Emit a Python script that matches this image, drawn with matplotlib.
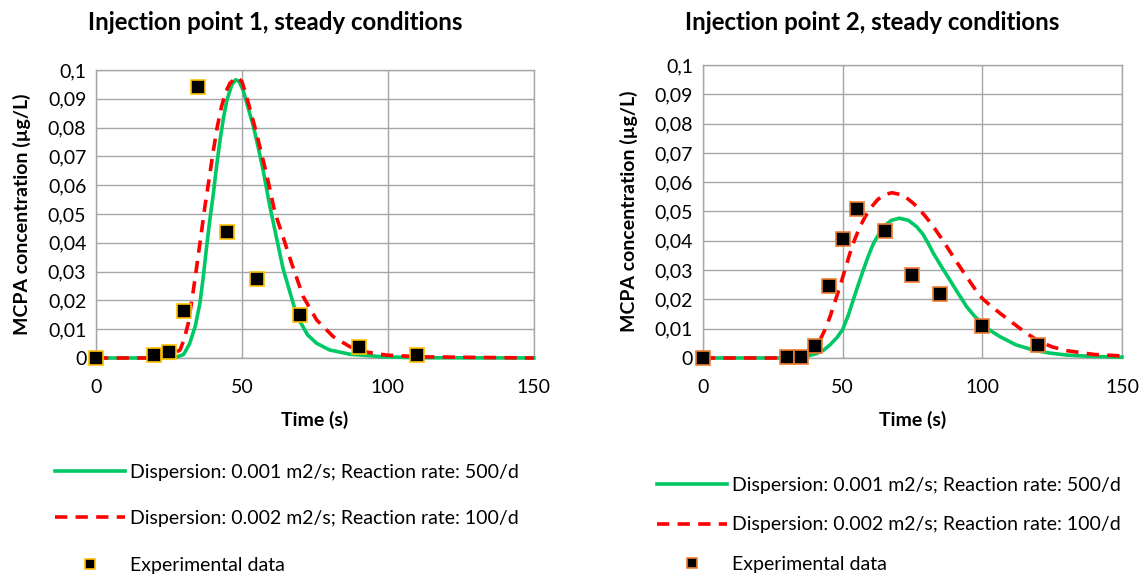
import matplotlib
matplotlib.use("Agg")
import matplotlib.pyplot as plt
from matplotlib.lines import Line2D
from matplotlib.ticker import MultipleLocator, FuncFormatter

plt.rcParams["font.family"] = ["Lato", "DejaVu Sans"]

# Injection point 1
exp1_t = [0, 20, 25, 30, 35, 45, 55, 70, 90, 110]
exp1_c = [0, 0.001, 0.002, 0.0163, 0.094, 0.0437, 0.0274, 0.015, 0.0038, 0.001]

green1_t = [0, 20, 27.5, 30, 32, 34, 35.6, 36.8, 37.9, 39, 40.2, 41.3, 42.5, 43.7, 44.8, 46.5,
            47.8, 49, 50.4, 51.8, 53.9, 55.6, 57.3, 59.5, 61.9, 64.1, 66.4, 68, 70, 72.5,
            75.6, 80, 87, 98.4, 110, 150]
green1_c = [0, 0, 0.0003, 0.0012, 0.0048, 0.011, 0.019, 0.0285, 0.0387, 0.048, 0.057, 0.0665,
            0.0757, 0.0835, 0.0893, 0.0948, 0.0966, 0.096, 0.093, 0.088, 0.0805, 0.073, 0.065,
            0.053, 0.0415, 0.031, 0.023, 0.0175, 0.0125, 0.008, 0.0051, 0.0028, 0.0013,
            0.0004, 0.0001, 0]

red1_t = [0, 20, 25, 28.8, 30.2, 31.6, 33, 34.5, 35.9, 37.3, 38.8, 40.2, 41.6, 43, 44.5, 45.9,
          48.2, 50, 51.6, 53.3, 55, 56.7, 58.4, 61.3, 64.1, 67, 71, 75.6, 81.3, 87, 93, 99.5,
          111, 150]
red1_c = [0, 0, 0.0005, 0.0028, 0.0065, 0.012, 0.021, 0.0317, 0.042, 0.0525, 0.0625, 0.072,
          0.0805, 0.0873, 0.0925, 0.0954, 0.0975, 0.096, 0.0907, 0.0845, 0.078, 0.071, 0.064,
          0.0505, 0.042, 0.0329, 0.0213, 0.0132, 0.0074, 0.0039, 0.002, 0.001, 0.0004, 0]

# Injection point 2
exp2_t = [0, 30, 35, 40, 45, 50, 55, 65, 75, 85, 100, 120]
exp2_c = [0, 0.0003, 0.0005, 0.004, 0.0246, 0.0405, 0.051, 0.0433, 0.0283, 0.0218, 0.0108, 0.0044]

green2_t = [0, 30, 36, 40.7, 43.2, 45.5, 48, 50, 52, 53.8, 55.6, 57.4, 59.2, 61, 62.8, 64.6,
            67.5, 70.3, 73.5, 76.5, 78.7, 80.7, 82.5, 85.5, 88.4, 91.4, 94.4, 97.2, 99.9,
            103, 106.3, 112, 118.3, 124, 130.2, 140, 150]
green2_c = [0, 0, 0.0003, 0.0015, 0.0027, 0.0045, 0.007, 0.0097, 0.0145, 0.0198, 0.025, 0.030,
            0.0348, 0.039, 0.042, 0.0448, 0.047, 0.0477, 0.047, 0.0448, 0.0423, 0.039, 0.0357,
            0.031, 0.0266, 0.022, 0.0175, 0.0143, 0.0118, 0.0093, 0.0073, 0.0045, 0.0027,
            0.0017, 0.001, 0.0005, 0.0003]

red2_t = [0, 30, 36, 39, 41.9, 43.7, 45.5, 47.2, 49, 50.8, 52.6, 54.4, 56.2, 58.3, 60.4, 62.5,
          64.6, 67.6, 71.7, 75.3, 77.7, 80.1, 82.5, 84.9, 87.3, 90.8, 94.4, 97.2, 99.9, 103,
          106.3, 110, 113.5, 117, 120.7, 125, 130.2, 140, 150]
red2_c = [0, 0, 0.0008, 0.0025, 0.0061, 0.0097, 0.0141, 0.019, 0.0243, 0.03, 0.0357, 0.0406,
          0.0448, 0.0486, 0.0516, 0.054, 0.0556, 0.0564, 0.0556, 0.0528, 0.0505, 0.0478,
          0.0448, 0.0415, 0.038, 0.0328, 0.0277, 0.0238, 0.0204, 0.0178, 0.0153, 0.0126,
          0.0101, 0.0077, 0.0055, 0.0038, 0.0025, 0.0012, 0.0007]

titles = ["Injection point 1, steady conditions", "Injection point 2, steady conditions"]
labels = ["Dispersion: 0.001 m2/s; Reaction rate: 500/d",
          "Dispersion: 0.002 m2/s; Reaction rate: 100/d",
          "Experimental data"]

green = "#00C864"
red = "#FF0000"
grid_col = "#A6A6A6"
fs = 14
dash = (3.4, 2.3)

fig = plt.figure(figsize=(11.43, 5.76), dpi=100)
ax1 = fig.add_axes([0.084, 0.3785, 0.383, 0.5])
ax2 = fig.add_axes([0.615, 0.3785, 0.3666, 0.5087])


def comma_fmt(v, pos):
    if abs(v) < 1e-9:
        return "0"
    return ("%.2f" % v).rstrip("0").replace(".", ",")


def draw(ax, gt, gc, rt, rc, et, ec, edge):
    ax.plot(gt, gc, color=green, lw=2.6, clip_on=False, zorder=3)
    ax.plot(rt, rc, color=red, lw=2.6, dashes=dash, clip_on=False, zorder=4)
    ax.plot(et, ec, ls="none", marker="s", ms=9.5, mfc="black", mec=edge, mew=1.2,
            clip_on=False, zorder=5)
    ax.set_xlim(0, 150)
    ax.set_ylim(0, 0.1)
    ax.xaxis.set_major_locator(MultipleLocator(50))
    ax.yaxis.set_major_locator(MultipleLocator(0.01))
    ax.yaxis.set_major_formatter(FuncFormatter(comma_fmt))
    ax.grid(True, color=grid_col, lw=1.0)
    ax.set_axisbelow(True)
    for s in ax.spines.values():
        s.set_color(grid_col)
        s.set_linewidth(1.0)
    ax.tick_params(length=0, labelsize=fs, colors="black")
    ax.tick_params(axis="x", pad=15)
    ax.tick_params(axis="y", pad=7)
    ax.set_xlabel("Time (s)", fontsize=fs, fontweight="bold", labelpad=11)
    ax.set_ylabel("MCPA concentration (µg/L)", fontsize=fs, fontweight="bold", labelpad=12)
    handles = [Line2D([], [], color=green, lw=2.6),
               Line2D([], [], color=red, lw=2.6, dashes=dash),
               Line2D([], [], ls="none", marker="s", ms=7, mfc="black", mec=edge, mew=1.2)]
    return handles


h1 = draw(ax1, green1_t, green1_c, red1_t, red1_c, exp1_t, exp1_c, "#FFC000")
h2 = draw(ax2, green2_t, green2_c, red2_t, red2_c, exp2_t, exp2_c, "#ED7D31")

fig.text(275 / 1143, 1 - 22 / 576, titles[0], fontsize=17.3, fontweight="bold",
         ha="center", va="center")
fig.text(872 / 1143, 1 - 22 / 576, titles[1], fontsize=17.3, fontweight="bold",
         ha="center", va="center")

fig.legend(h1, labels, loc="upper left", bbox_to_anchor=(45 / 1143, 1 - 454 / 576),
           frameon=False, fontsize=fs, handlelength=3.6, handletextpad=0.26,
           labelspacing=1.52, borderpad=0)
fig.legend(h2, labels, loc="upper left", bbox_to_anchor=(647 / 1143, 1 - 467 / 576),
           frameon=False, fontsize=fs, handlelength=3.6, handletextpad=0.26,
           labelspacing=1.17, borderpad=0)

fig.savefig("out.png", dpi=100)
